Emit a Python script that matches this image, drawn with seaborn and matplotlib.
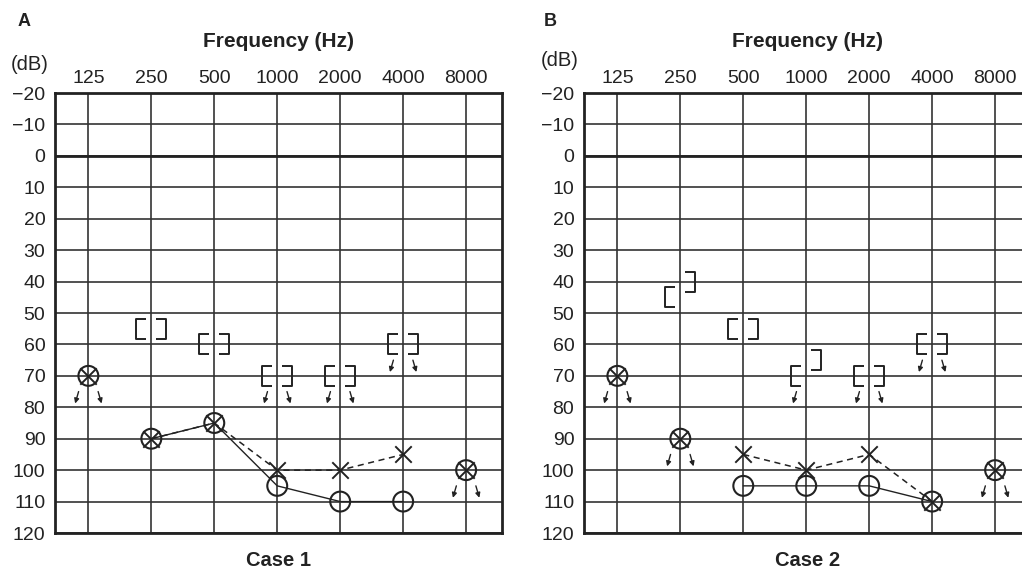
import matplotlib
matplotlib.use("Agg")
import matplotlib.pyplot as plt
from matplotlib.path import Path
import seaborn as sns
import pandas as pd

freqs = ["125", "250", "500", "1000", "2000", "4000", "8000"]
db_ticks = list(range(-20, 121, 10))
bc_freqs = ["250", "500", "1000", "2000", "4000"]

# air conduction, O = right ear, X = left ear, nr = no response (arrow)
c1_right = [70, 90, 85, 105, 110, 110, 100]
c1_right_nr = [1, 0, 0, 0, 0, 0, 1]
c1_left = [70, 90, 85, 100, 100, 95, 100]
c1_left_nr = [1, 0, 0, 0, 0, 0, 1]

c2_right = [70, 90, 105, 105, 105, 110, 100]
c2_right_nr = [1, 1, 0, 0, 0, 0, 1]
c2_left = [70, 90, 95, 100, 95, 110, 100]
c2_left_nr = [1, 1, 0, 0, 0, 0, 1]

# masked bone conduction, [ = right ear, ] = left ear
c1_right_bc = [55, 60, 70, 70, 60]
c1_right_bc_nr = [0, 0, 1, 1, 1]
c1_left_bc = [55, 60, 70, 70, 60]
c1_left_bc_nr = [0, 0, 1, 1, 1]

c2_right_bc = [45, 55, 70, 70, 60]
c2_right_bc_nr = [0, 0, 1, 1, 1]
c2_left_bc = [40, 55, 65, 70, 60]
c2_left_bc_nr = [0, 0, 0, 1, 1]

INK = "#222222"

sns.set_style("white")
plt.rcParams["font.family"] = ["Liberation Sans", "DejaVu Sans"]

left_br = Path([(-5, 10), (-15, 10), (-15, -10), (-5, -10)])
right_br = Path([(5, 10), (15, 10), (15, -10), (5, -10)])


def frame(fl, vals, nr):
    return pd.DataFrame({"x": [freqs.index(f) for f in fl], "db": vals, "nr": nr})


def nr_arrows(ax, df, side):
    for _, r in df[df.nr == 1].iterrows():
        ax.annotate("", xy=(r.x + side * 0.21, r.db + 8.8),
                    xytext=(r.x + side * 0.155, r.db + 5.0),
                    arrowprops=dict(arrowstyle="-|>", color=INK, lw=1.0,
                                    mutation_scale=7, shrinkA=0, shrinkB=0),
                    zorder=5)


def draw(ax, right, right_nr, left, left_nr, rbc, rbc_nr, lbc, lbc_nr, case):
    r = frame(freqs, right, right_nr)
    l = frame(freqs, left, left_nr)
    rb = frame(bc_freqs, rbc, rbc_nr)
    lb = frame(bc_freqs, lbc, lbc_nr)

    sns.lineplot(data=r[r.nr == 0], x="x", y="db", ax=ax, color=INK, lw=1.0,
                 estimator=None, sort=False, zorder=3)
    sns.lineplot(data=l[l.nr == 0], x="x", y="db", ax=ax, color=INK, lw=1.1,
                 linestyle=(0, (4, 3)), estimator=None, sort=False, zorder=3)

    sns.scatterplot(data=r, x="x", y="db", ax=ax, marker="o", s=205, color=INK,
                    facecolor="none", edgecolor=INK, linewidth=1.5, zorder=4)
    sns.scatterplot(data=l, x="x", y="db", ax=ax, marker="x", s=140, color=INK,
                    linewidth=1.4, zorder=4)
    sns.scatterplot(data=rb, x="x", y="db", ax=ax, marker=left_br, s=467, color=INK,
                    facecolor="none", edgecolor=INK, linewidth=1.4, zorder=4)
    sns.scatterplot(data=lb, x="x", y="db", ax=ax, marker=right_br, s=467, color=INK,
                    facecolor="none", edgecolor=INK, linewidth=1.4, zorder=4)

    nr_arrows(ax, r, -1)
    nr_arrows(ax, rb, -1)
    nr_arrows(ax, l, 1)
    nr_arrows(ax, lb, 1)

    ax.set_xlim(-0.53, 6.57)
    ax.set_ylim(120, -20)
    ax.set_xticks(range(len(freqs)))
    ax.set_xticklabels(freqs, fontsize=14)
    ax.set_yticks(db_ticks)
    ax.set_yticklabels([str(v).replace("-", "\u2212") for v in db_ticks], fontsize=14)
    ax.xaxis.tick_top()
    ax.xaxis.set_label_position("top")
    ax.tick_params(length=0, colors=INK)
    ax.tick_params(axis="x", pad=4)
    ax.tick_params(axis="y", pad=7)
    ax.set_xlabel("Frequency (Hz)", fontsize=15, fontweight="bold", color=INK, labelpad=17)
    ax.set_ylabel("")
    ax.grid(True, color="#333333", lw=1.2)
    ax.set_axisbelow(True)
    ax.axhline(0, color=INK, lw=2.0, zorder=1.5)
    for sp in ax.spines.values():
        sp.set_color(INK)
        sp.set_linewidth(2.0)
    ax.text(0.5, -0.062, case, transform=ax.transAxes, ha="center", va="center",
            fontsize=14.5, fontweight="bold", color=INK)


fig = plt.figure(figsize=(10.22, 5.71), dpi=100)
ax1 = fig.add_axes([55 / 1022, 38 / 571, 447 / 1022, 440 / 571])
ax2 = fig.add_axes([584 / 1022, 38 / 571, 447 / 1022, 440 / 571])

draw(ax1, c1_right, c1_right_nr, c1_left, c1_left_nr,
     c1_right_bc, c1_right_bc_nr, c1_left_bc, c1_left_bc_nr, "Case 1")
draw(ax2, c2_right, c2_right_nr, c2_left, c2_left_nr,
     c2_right_bc, c2_right_bc_nr, c2_left_bc, c2_left_bc_nr, "Case 2")

fig.text(18 / 1022, 1 - 21 / 571, "A", fontsize=13, fontweight="bold", color=INK, va="center")
fig.text(544 / 1022, 1 - 21 / 571, "B", fontsize=13, fontweight="bold", color=INK, va="center")
fig.text(30 / 1022, 1 - 65 / 571, "(dB)", fontsize=14.5, color=INK, ha="center", va="center")
fig.text(560 / 1022, 1 - 61 / 571, "(dB)", fontsize=14.5, color=INK, ha="center", va="center")

fig.savefig("out.png", dpi=100, facecolor="white")
